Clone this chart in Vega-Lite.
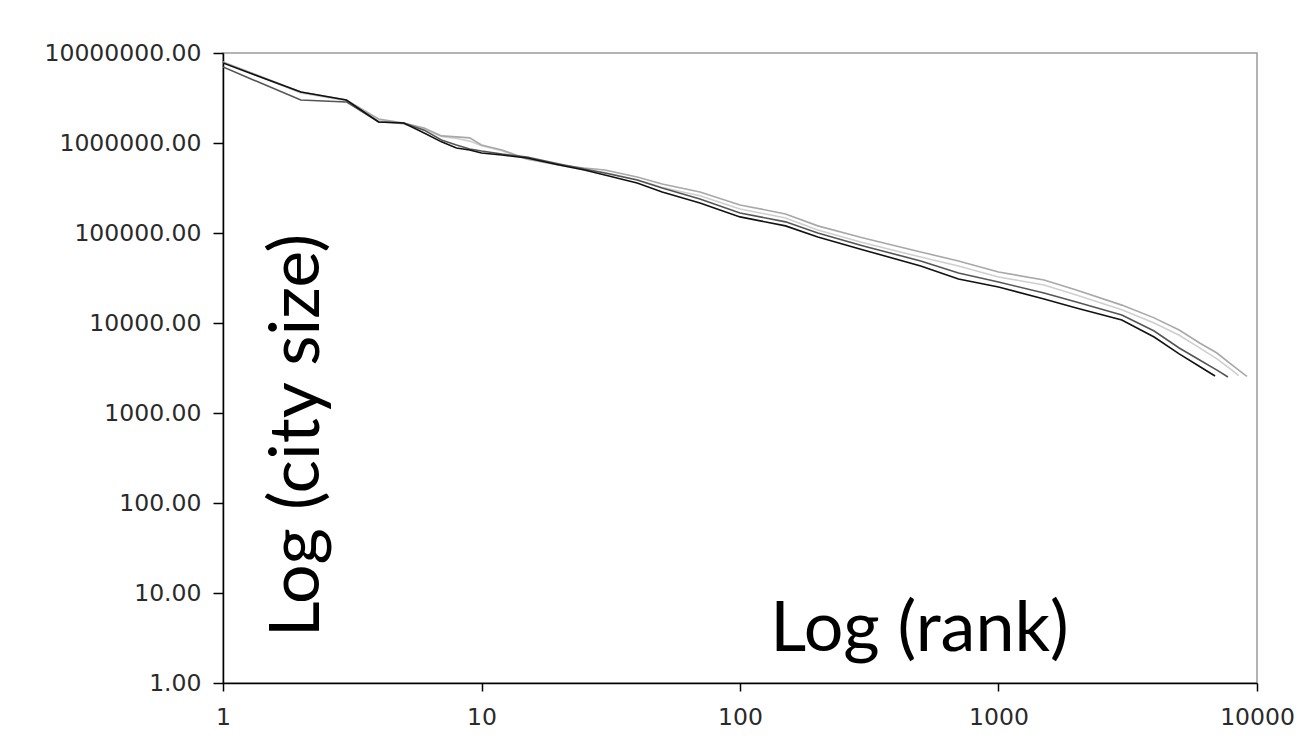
{
  "$schema": "https://vega.github.io/schema/vega-lite/v6.json",
  "width": 1034,
  "height": 630,
  "autosize": {"type": "none"},
  "padding": {"left": 223, "top": 53, "right": 44, "bottom": 72},
  "background": "white",
  "config": {
    "view": {"stroke": "#9a9a9a", "strokeWidth": 1.5},
    "axis": {"grid": false, "labelFont": "DejaVu Sans", "labelFontSize": 23.5, "labelColor": "#2a2a2a", "domainColor": "#000", "domainWidth": 1.5, "tickColor": "#000", "tickWidth": 1.5, "titleFont": "Lato", "titleFontWeight": "normal", "titleColor": "#000", "titleFontSize": 70}
  },
  "data": {"values": [
    {"series": "s1", "rank": 1, "size": 7900000}, {"series": "s1", "rank": 2, "size": 3600000}, {"series": "s1", "rank": 3, "size": 2950000}, {"series": "s1", "rank": 4, "size": 1800000}, {"series": "s1", "rank": 5, "size": 1620000}, {"series": "s1", "rank": 6, "size": 1420000}, {"series": "s1", "rank": 7, "size": 1180000}, {"series": "s1", "rank": 8, "size": 1120000}, {"series": "s1", "rank": 9, "size": 1050000}, {"series": "s1", "rank": 10, "size": 930000}, {"series": "s1", "rank": 12, "size": 820000}, {"series": "s1", "rank": 15, "size": 660000}, {"series": "s1", "rank": 20, "size": 565000}, {"series": "s1", "rank": 25, "size": 505000}, {"series": "s1", "rank": 30, "size": 470000}, {"series": "s1", "rank": 40, "size": 390000}, {"series": "s1", "rank": 50, "size": 320000}, {"series": "s1", "rank": 70, "size": 260000}, {"series": "s1", "rank": 100, "size": 185000}, {"series": "s1", "rank": 150, "size": 147000}, {"series": "s1", "rank": 200, "size": 108000}, {"series": "s1", "rank": 300, "size": 78000}, {"series": "s1", "rank": 500, "size": 54000}, {"series": "s1", "rank": 700, "size": 43000}, {"series": "s1", "rank": 1000, "size": 32500}, {"series": "s1", "rank": 1500, "size": 26500}, {"series": "s1", "rank": 2000, "size": 20500}, {"series": "s1", "rank": 3000, "size": 14000}, {"series": "s1", "rank": 4000, "size": 10000}, {"series": "s1", "rank": 5000, "size": 7300}, {"series": "s1", "rank": 6000, "size": 5300}, {"series": "s1", "rank": 7000, "size": 4000}, {"series": "s1", "rank": 8000, "size": 3000}, {"series": "s1", "rank": 8500, "size": 2600},
    {"series": "s2", "rank": 1, "size": 7940000}, {"series": "s2", "rank": 2, "size": 3690000}, {"series": "s2", "rank": 3, "size": 3000000}, {"series": "s2", "rank": 4, "size": 1850000}, {"series": "s2", "rank": 5, "size": 1670000}, {"series": "s2", "rank": 6, "size": 1470000}, {"series": "s2", "rank": 7, "size": 1200000}, {"series": "s2", "rank": 8, "size": 1170000}, {"series": "s2", "rank": 9, "size": 1140000}, {"series": "s2", "rank": 10, "size": 951000}, {"series": "s2", "rank": 12, "size": 836000}, {"series": "s2", "rank": 15, "size": 664000}, {"series": "s2", "rank": 20, "size": 570000}, {"series": "s2", "rank": 25, "size": 527000}, {"series": "s2", "rank": 30, "size": 501000}, {"series": "s2", "rank": 40, "size": 419000}, {"series": "s2", "rank": 50, "size": 350000}, {"series": "s2", "rank": 70, "size": 286000}, {"series": "s2", "rank": 100, "size": 205000}, {"series": "s2", "rank": 150, "size": 163000}, {"series": "s2", "rank": 200, "size": 120000}, {"series": "s2", "rank": 300, "size": 88000}, {"series": "s2", "rank": 500, "size": 61500}, {"series": "s2", "rank": 700, "size": 48900}, {"series": "s2", "rank": 1000, "size": 36900}, {"series": "s2", "rank": 1500, "size": 30000}, {"series": "s2", "rank": 2000, "size": 23300}, {"series": "s2", "rank": 3000, "size": 15800}, {"series": "s2", "rank": 4000, "size": 11400}, {"series": "s2", "rank": 5000, "size": 8360}, {"series": "s2", "rank": 6000, "size": 6000}, {"series": "s2", "rank": 7000, "size": 4640}, {"series": "s2", "rank": 8000, "size": 3420}, {"series": "s2", "rank": 9000, "size": 2640}, {"series": "s2", "rank": 9150, "size": 2550},
    {"series": "s3", "rank": 1, "size": 6990000}, {"series": "s3", "rank": 2, "size": 3000000}, {"series": "s3", "rank": 3, "size": 2860000}, {"series": "s3", "rank": 4, "size": 1710000}, {"series": "s3", "rank": 5, "size": 1670000}, {"series": "s3", "rank": 6, "size": 1390000}, {"series": "s3", "rank": 7, "size": 1080000}, {"series": "s3", "rank": 8, "size": 951000}, {"series": "s3", "rank": 9, "size": 858000}, {"series": "s3", "rank": 10, "size": 815000}, {"series": "s3", "rank": 12, "size": 755000}, {"series": "s3", "rank": 15, "size": 699000}, {"series": "s3", "rank": 20, "size": 585000}, {"series": "s3", "rank": 25, "size": 514000}, {"series": "s3", "rank": 30, "size": 464000}, {"series": "s3", "rank": 40, "size": 388000}, {"series": "s3", "rank": 50, "size": 316000}, {"series": "s3", "rank": 70, "size": 239000}, {"series": "s3", "rank": 100, "size": 167000}, {"series": "s3", "rank": 150, "size": 133000}, {"series": "s3", "rank": 200, "size": 100000}, {"series": "s3", "rank": 300, "size": 71800}, {"series": "s3", "rank": 500, "size": 48900}, {"series": "s3", "rank": 700, "size": 36000}, {"series": "s3", "rank": 1000, "size": 28600}, {"series": "s3", "rank": 1500, "size": 21500}, {"series": "s3", "rank": 2000, "size": 17100}, {"series": "s3", "rank": 3000, "size": 12300}, {"series": "s3", "rank": 4000, "size": 8150}, {"series": "s3", "rank": 5000, "size": 5280}, {"series": "s3", "rank": 6000, "size": 3880}, {"series": "s3", "rank": 7000, "size": 3000}, {"series": "s3", "rank": 7720, "size": 2510},
    {"series": "s4", "rank": 1, "size": 7740000}, {"series": "s4", "rank": 2, "size": 3690000}, {"series": "s4", "rank": 3, "size": 3000000}, {"series": "s4", "rank": 4, "size": 1710000}, {"series": "s4", "rank": 5, "size": 1670000}, {"series": "s4", "rank": 6, "size": 1290000}, {"series": "s4", "rank": 7, "size": 1030000}, {"series": "s4", "rank": 8, "size": 880000}, {"series": "s4", "rank": 9, "size": 836000}, {"series": "s4", "rank": 10, "size": 774000}, {"series": "s4", "rank": 12, "size": 735000}, {"series": "s4", "rank": 15, "size": 681000}, {"series": "s4", "rank": 20, "size": 570000}, {"series": "s4", "rank": 25, "size": 501000}, {"series": "s4", "rank": 30, "size": 441000}, {"series": "s4", "rank": 40, "size": 359000}, {"series": "s4", "rank": 50, "size": 286000}, {"series": "s4", "rank": 70, "size": 216000}, {"series": "s4", "rank": 100, "size": 151000}, {"series": "s4", "rank": 150, "size": 120000}, {"series": "s4", "rank": 200, "size": 90400}, {"series": "s4", "rank": 300, "size": 64800}, {"series": "s4", "rank": 500, "size": 43000}, {"series": "s4", "rank": 700, "size": 30800}, {"series": "s4", "rank": 1000, "size": 25100}, {"series": "s4", "rank": 1500, "size": 18500}, {"series": "s4", "rank": 2000, "size": 14700}, {"series": "s4", "rank": 3000, "size": 10800}, {"series": "s4", "rank": 4000, "size": 6980}, {"series": "s4", "rank": 5000, "size": 4530}, {"series": "s4", "rank": 6000, "size": 3290}, {"series": "s4", "rank": 6880, "size": 2580}
  ]},
  "mark": {"type": "line", "strokeWidth": 1.6, "clip": true},
  "encoding": {
    "x": {"field": "rank", "type": "quantitative", "scale": {"type": "log", "domain": [1, 10000], "nice": false},
      "axis": {"values": [1, 10, 100, 1000, 10000], "format": "d", "tickSize": 8, "labelPadding": 14, "labelFlush": false, "labelOverlap": false,
        "title": "Log (rank)", "titleX": 696, "titleY": -33, "titleAlign": "center", "titleBaseline": "alphabetic", "titleAnchor": null}},
    "y": {"field": "size", "type": "quantitative", "scale": {"type": "log", "domain": [1, 10000000], "nice": false},
      "axis": {"values": [1, 10, 100, 1000, 10000, 100000, 1000000, 10000000], "format": ".2f", "tickSize": 10, "labelPadding": 12, "labelFlush": false, "labelOverlap": false,
        "title": "Log (city size)", "titleX": 95, "titleY": 382, "titleAngle": -90, "titleAlign": "center", "titleBaseline": "alphabetic", "titleAnchor": null}},
    "color": {"field": "series", "type": "nominal", "legend": null,
      "scale": {"domain": ["s1", "s2", "s3", "s4"], "range": ["#cfcfcf", "#a8a8a8", "#555555", "#111111"]}},
    "order": {"field": "rank", "type": "quantitative"}
  }
}
